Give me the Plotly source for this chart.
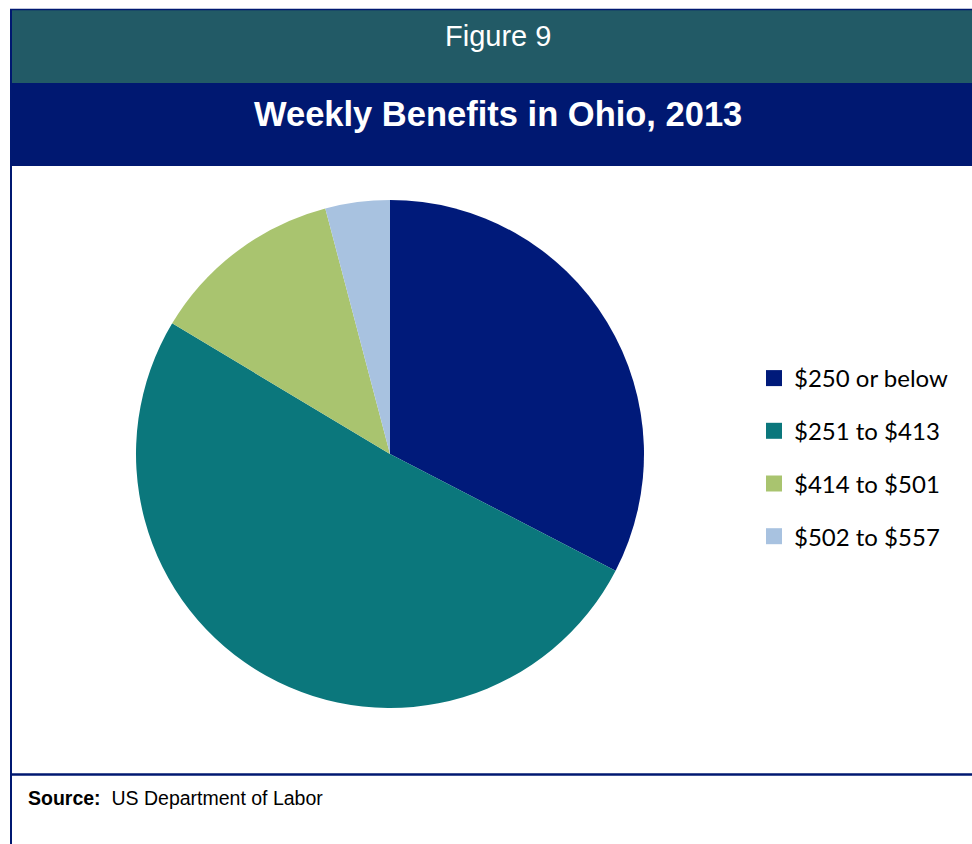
import plotly.graph_objects as go

W, H = 972, 844

labels = ["$250 or below", "$251 to $413", "$414 to $501", "$502 to $557"]
values = [32.6, 51.0, 12.3, 4.1]
colors = ["#001A7A", "#0B777C", "#A9C46F", "#A8C2E0"]

fig = go.Figure()

def px_x(x):
    return x / W

def px_y(y):
    return 1 - y / H

cx, cy, r = 390, 454, 254
fig.add_trace(go.Pie(
    labels=labels, values=values, sort=False, direction="clockwise", rotation=0,
    marker=dict(colors=colors, line=dict(width=0)),
    textinfo="none", hoverinfo="label+value", showlegend=False,
    domain=dict(x=[px_x(cx - r), px_x(cx + r)], y=[px_y(cy + r), px_y(cy - r)]),
))

for i, (lab, col) in enumerate(zip(labels, colors)):
    fig.add_trace(go.Scatter(
        x=[None], y=[None], mode="markers", name=lab,
        marker=dict(symbol="square", size=16, color=col),
        legendgroup=lab, showlegend=True,
    ))

shapes = [
    dict(type="rect", xref="paper", yref="paper", x0=px_x(10), x1=1, y0=px_y(83), y1=px_y(10),
         fillcolor="#225A66", line=dict(width=0), layer="below"),
    dict(type="rect", xref="paper", yref="paper", x0=px_x(10), x1=1, y0=px_y(166), y1=px_y(83),
         fillcolor="#001871", line=dict(width=0), layer="below"),
    dict(type="line", xref="paper", yref="paper", x0=px_x(10), x1=1, y0=px_y(9.5), y1=px_y(9.5),
         line=dict(color="#001871", width=1.5)),
    dict(type="line", xref="paper", yref="paper", x0=px_x(11), x1=px_x(11), y0=0, y1=px_y(9),
         line=dict(color="#001871", width=2)),
    dict(type="line", xref="paper", yref="paper", x0=px_x(10), x1=1, y0=px_y(774.5), y1=px_y(774.5),
         line=dict(color="#001871", width=2.5)),
]

annotations = [
    dict(text="Figure 9", xref="paper", yref="paper", x=px_x(498), y=px_y(36),
         xanchor="center", yanchor="middle", showarrow=False,
         font=dict(family="Liberation Sans, Arial", size=29, color="white")),
    dict(text="<b>Weekly Benefits in Ohio, 2013</b>", xref="paper", yref="paper", x=px_x(498), y=px_y(114),
         xanchor="center", yanchor="middle", showarrow=False,
         font=dict(family="Liberation Sans, Arial", size=34.5, color="white")),
    dict(text="<b>Source:</b>  US Department of Labor", xref="paper", yref="paper", x=px_x(26), y=px_y(798),
         xanchor="left", yanchor="middle", showarrow=False,
         font=dict(family="Liberation Sans, Arial", size=19.5, color="black")),
]

fig.update_layout(
    width=W, height=H,
    margin=dict(l=0, r=0, t=0, b=0),
    paper_bgcolor="white", plot_bgcolor="white",
    xaxis=dict(visible=False), yaxis=dict(visible=False),
    shapes=shapes, annotations=annotations,
    legend=dict(x=px_x(754), y=px_y(356), xanchor="left", yanchor="top",
                traceorder="grouped", tracegroupgap=18.5, itemclick=False,
                font=dict(family="Lato, Calibri, sans-serif", size=24, color="black"),
                bgcolor="rgba(0,0,0,0)"),
    showlegend=True,
)

fig.write_html("out.html", config={"displayModeBar": False},
               post_script="document.body.style.margin='0';document.body.style.padding='0';")
